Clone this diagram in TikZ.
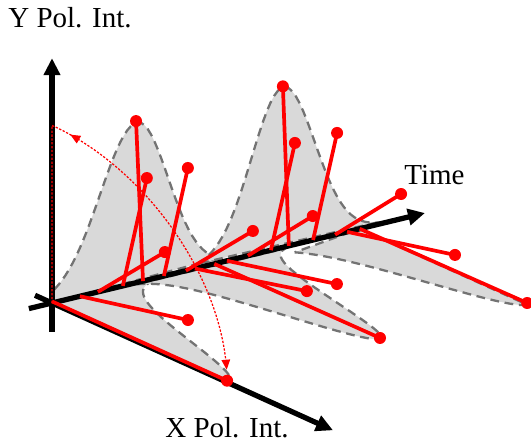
\documentclass[tikz,border=0pt]{standalone}
\usepackage{fontspec}
\setmainfont{Liberation Serif}
\usetikzlibrary{arrows.meta}

\begin{document}
\begin{tikzpicture}[
  x={(7.46cm,1.8cm)}, y={(0cm,3.2cm)}, z={(3.4cm,-1.54cm)},
  declare function={lobe(\sv,\cv,\wa,\wb)=exp(-1*((\sv-\cv)/((\sv<\cv)*\wa+(1-(\sv<\cv))*\wb))^2);},
  envelope/.style={fill=gray!30, draw=black!55, line width=1.3pt, dash pattern=on 5pt off 3.2pt},
  axis/.style={line width=3pt, -{Triangle[length=0.34cm,width=0.32cm]}},
  vec/.style={red, line width=2.1pt},
  dot/.style={circle, fill=red, inner sep=0pt, minimum size=0.24cm},
  turn/.style={red, line width=0.7pt, dash pattern=on 1.3pt off 0.9pt},
  lab/.style={font=\fontsize{16.5}{20}\selectfont, inner sep=0pt, anchor=base west},
]
\useasboundingbox (-1.04cm,-2.86cm) rectangle (9.58cm,6.06cm);

% X polarised pulses
\filldraw[envelope] (0,0,0) -- plot[domain=0:0.3,samples=40] (\x,0,{1.03*lobe(\x,0,0.13,0.13)}) -- cycle;
\filldraw[envelope] plot[domain=0.22:0.62,samples=50] (\x,0,{0.975*lobe(\x,0.435,0.105,0.09)}) -- cycle;
\filldraw[envelope] plot[domain=0.62:0.825,samples=40] (\x,0,{0.985*lobe(\x,0.825,0.125,0.125)}) -- (0.825,0,0) -- cycle;
% Y polarised pulses
\filldraw[envelope] (0,0,0) -- plot[domain=0:0.45,samples=50] (\x,{lobe(\x,0.228,0.14,0.118)},0) -- cycle;
\filldraw[envelope] plot[domain=0.39:0.87,samples=50] (\x,{lobe(\x,0.62,0.12,0.12)},0) -- cycle;

% axes
\draw[axis] (-0.062,0,0) -- (1,0,0);
\draw[axis] (0,-0.18,0) -- (0,1.53,0);
\draw[axis] (0,0,-0.1) -- (0,0,1.653);

% rotation of the polarisation
\draw[turn] (0,0,0) -- plot[domain=0:8,samples=5] (0,{1.11*cos(\x)},{1.03*sin(\x)});
\draw[turn, {Triangle[length=0.2cm,width=0.17cm]}-{Triangle[length=0.2cm,width=0.17cm]}]
  plot[domain=6:86,samples=40] (0,{1.11*cos(\x)},{1.03*sin(\x)});

% field vectors
\draw[vec] (0,0.01,0) -- (0,0.01,1.03) node[dot] (p1) {};
\draw[vec] (0.075,0,0) -- (0.075,0.157,0.635) node[dot] (p2) {};
\draw[vec] (0.123,0,0) -- (0.123,0.439,0.394) node[dot] (p3) {};
\draw[vec] (0.19,0,0) -- (0.19,0.742,0.141) node[dot] (p4) {};
\draw[vec] (0.244,0,0) -- (0.244,0.98,-0.041) node[dot] (p5) {};
\draw[vec] (0.3,0,0) -- (0.3,0.743,0.141) node[dot] (p6) {};
\draw[vec] (0.359,0,0) -- (0.359,0.438,0.394) node[dot] (p7) {};
\draw[vec] (0.383,0,0) -- (0.383,0.176,0.659) node[dot] (p8) {};
\draw[vec] (0.435,0,0) -- (0.435,0.006,0.975) node[dot] (p9) {};
\draw[vec] (0.469,0,0) -- (0.469,0.166,0.647) node[dot] (p10) {};
\draw[vec] (0.525,0,0) -- (0.525,0.432,0.382) node[dot] (p11) {};
\draw[vec] (0.587,0,0) -- (0.587,0.738,0.141) node[dot] (p12) {};
\draw[vec] (0.635,0,0) -- (0.635,0.98,-0.035) node[dot] (p13) {};
\draw[vec] (0.7,0,0) -- (0.7,0.737,0.141) node[dot] (p14) {};
\draw[vec] (0.759,0,0) -- (0.759,0.441,0.388) node[dot] (p15) {};
\draw[vec] (0.791,0,0) -- (0.791,0.161,0.635) node[dot] (p16) {};
\draw[vec] (0.825,0,0) -- (0.825,0.01,0.985) node[dot] (p17) {};

% labels
\node[lab] (ylab) at (-0.88cm,5.5cm) {Y Pol. Int.};
\node[lab] (tlab) at (7.04cm,2.36cm) {Time};
\node[lab] (xlab) at (2.26cm,-2.7cm) {X Pol. Int.};
\end{tikzpicture}
\end{document}
